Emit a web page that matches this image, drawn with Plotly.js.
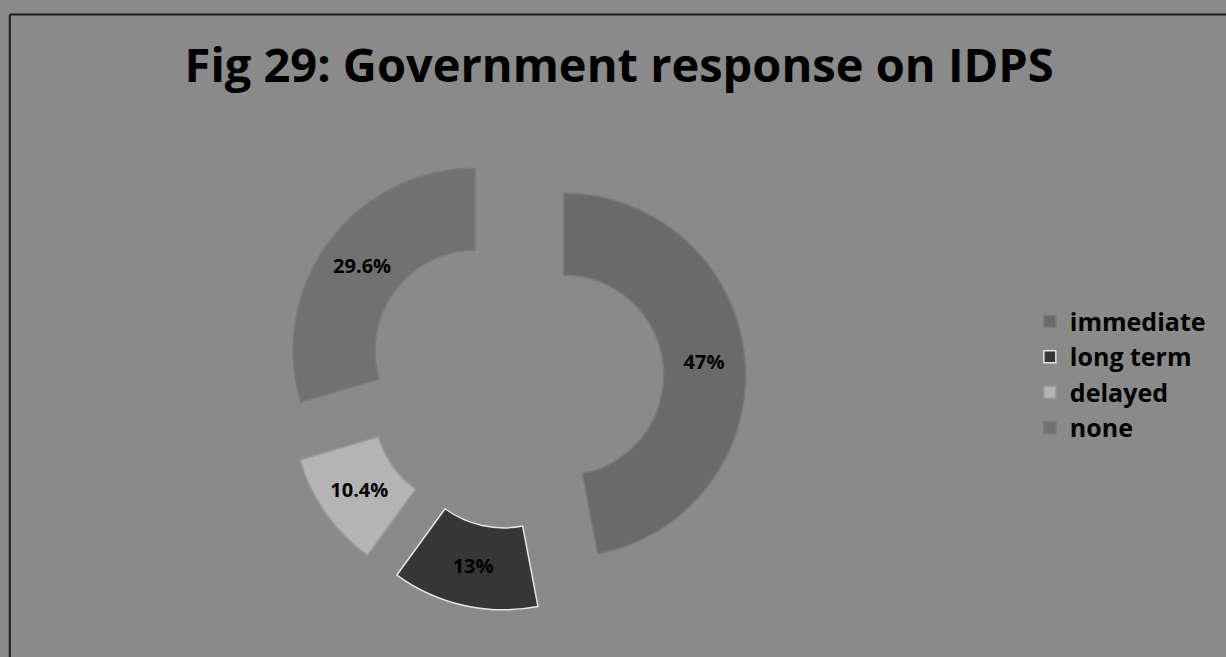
<!DOCTYPE html>
<html>
<head>
<meta charset="utf-8">
<script src="https://cdn.plot.ly/plotly-3.0.1.min.js"></script>
<style>html,body{margin:0;padding:0;background:#8a8a8a;}#chart{width:1226px;height:657px;}</style>
</head>
<body>
<div id="chart"></div>
<script>
const categories = ["immediate", "long term", "delayed", "none"];
const values = [47, 13, 10.4, 29.6];
const colors = ["#6a6a6a", "#363636", "#b4b4b4", "#717171"];
const edgeColors = ["#7a7a7a", "#e6e6e6", "#9a9a9a", "#7a7a7a"];

const trace = {
  type: "pie",
  labels: categories,
  values: values,
  hole: 0.55,
  sort: false,
  direction: "clockwise",
  rotation: 0,
  pull: [0.27, 0.27, 0.27, 0.27],
  marker: { colors: colors, line: { color: edgeColors, width: 1.5 } },
  texttemplate: "%{value}%",
  textposition: "inside",
  insidetextorientation: "horizontal",
  textfont: { family: "Open Sans, sans-serif", size: 20, color: "#000000", weight: 700 },
  domain: { x: [0.2310, 0.6085], y: [0.0700, 0.7740] },
  hoverinfo: "label+percent"
};

const layout = {
  width: 1226,
  height: 657,
  margin: { l: 0, r: 0, t: 0, b: 0 },
  paper_bgcolor: "#8a8a8a",
  plot_bgcolor: "#8a8a8a",
  title: {
    text: "<b>Fig 29: Government response on IDPS</b>",
    font: { family: "Open Sans, sans-serif", size: 47, color: "#000000" },
    x: 0.505, xanchor: "center",
    y: 0.9, yanchor: "middle"
  },
  showlegend: true,
  legend: {
    x: 0.84, xanchor: "left",
    y: 0.43, yanchor: "middle",
    font: { family: "Open Sans, sans-serif", size: 25, color: "#000000", weight: 700 },
    tracegroupgap: 0,
    itemwidth: 30,
    bgcolor: "rgba(0,0,0,0)"
  },
  shapes: [
    { type: "line", xref: "paper", yref: "paper", x0: 0.008, x1: 0.008, y0: 0.0, y1: 0.978, line: { color: "#1a1a1a", width: 2 } },
    { type: "line", xref: "paper", yref: "paper", x0: 0.008, x1: 1.0, y0: 0.978, y1: 0.978, line: { color: "#1a1a1a", width: 2 } }
  ]
};

Plotly.newPlot("chart", [trace], layout, { displayModeBar: false, staticPlot: true });
</script>
</body>
</html>
